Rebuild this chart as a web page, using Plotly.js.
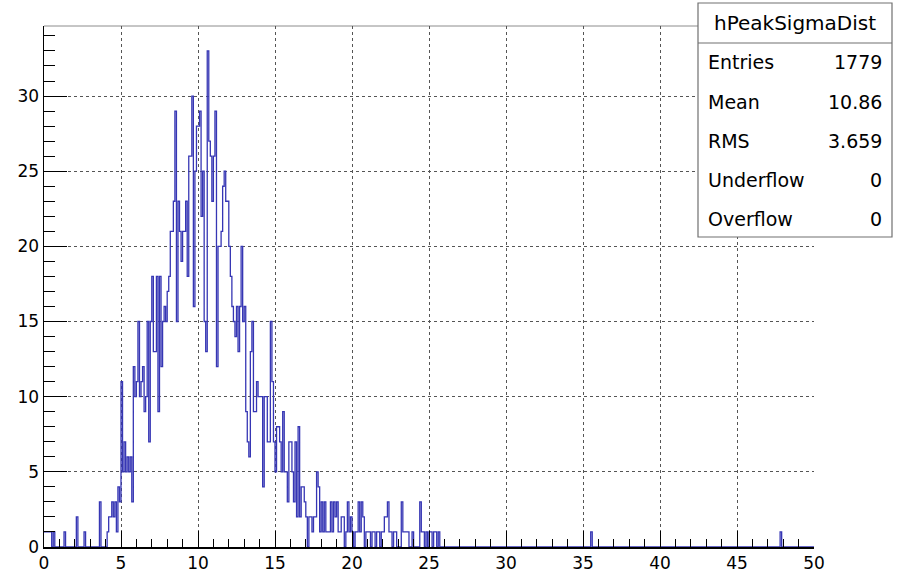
<!DOCTYPE html>
<html>
<head>
<meta charset="utf-8">
<script src="https://cdn.plot.ly/plotly-3.0.1.min.js"></script>
<style>
  html, body { margin: 0; padding: 0; background: #fff; }
  #chart { width: 901px; height: 572px; }
</style>
</head>
<body>
<div id="chart"></div>
<script>
// ---- Histogram definition (hPeakSigmaDist): 500 bins, 0..50 ----
const xMin = 0;
const xMax = 50;
const binWidth = 0.1;

// Bin counts for bins starting at 0.0, 0.1, ... 25.9 (one row per unit)
const countsLow = [
  1,1,1,1,1,0,1,0,0,0,       // 0.x
  0,0,0,1,0,0,0,0,0,0,       // 1.x
  0,2,0,0,0,0,1,0,0,0,       // 2.x
  0,0,0,0,0,0,3,0,0,0,       // 3.x
  0,1,2,2,3,2,3,1,4,3,       // 4.x
  11,5,7,5,6,5,6,3,12,10,    // 5.x
  11,15,10,11,12,9,10,15,7,15,   // 6.x
  18,13,13,18,9,18,12,15,16,15,  // 7.x
  17,18,21,21,23,29,15,23,21,19, // 8.x
  21,21,23,18,26,26,30,16,25,28, // 9.x
  28,29,22,25,15,13,33,27,26,23, // 10.x
  26,29,12,20,20,21,24,25,23,23, // 11.x
  20,18,16,15,14,16,13,16,20,15, // 12.x
  16,9,7,6,13,15,9,9,11,10,      // 13.x
  10,10,4,10,10,7,7,15,11,7,     // 14.x
  5,8,8,7,5,9,5,5,3,7,           // 15.x
  7,5,3,7,2,8,2,4,4,3,           // 16.x
  2,0,2,2,1,2,2,5,4,1,           // 17.x
  3,1,3,1,1,1,3,1,3,2,           // 18.x
  3,1,1,2,2,0,1,3,1,2,           // 19.x
  1,0,1,1,3,1,3,2,0,1,           // 20.x
  1,1,0,1,1,0,1,1,0,1,           // 21.x
  1,2,2,3,1,1,0,1,1,0,           // 22.x
  0,0,3,1,1,1,1,0,0,1,           // 23.x
  0,0,0,0,3,1,1,0,1,0,           // 24.x
  1,1,0,1,1,0,1,0,0,0            // 25.x
];

// Isolated far-tail entries (bin low edge, count)
const tailBins = [35.5, 47.8];
const tailCounts = [1, 1];

// Stats box
const statsName = 'hPeakSigmaDist';
const statsLabels = ['Entries', 'Mean', 'RMS', 'Underflow', 'Overflow'];
const statsValues = ['1779', '10.86', '3.659', '0', '0'];

// Axis ticks
const xTicks = [0, 5, 10, 15, 20, 25, 30, 35, 40, 45, 50];
const yTicks = [0, 5, 10, 15, 20, 25, 30];

// ---- Build full histogram ----
const nBins = Math.round((xMax - xMin) / binWidth);
const counts = new Array(nBins).fill(0);
countsLow.forEach((c, i) => { counts[i] = c; });
tailBins.forEach((b, k) => { counts[Math.round((b - xMin) / binWidth)] = tailCounts[k]; });

const xs = [], ys = [];
for (let i = 0; i < nBins; i++) {
  xs.push(+(xMin + i * binWidth).toFixed(2));
  ys.push(counts[i]);
}
xs.push(xMax); ys.push(counts[nBins - 1]);

// ---- Layout geometry (pixels) ----
const W = 901, H = 572;
const L = 44, R = 814, T = 26, B = 547;
const px = x => (x - L) / (R - L);
const py = y => (B - y) / (B - T);

const font = 'DejaVu Sans, Liberation Sans, Arial, sans-serif';

const trace = {
  type: 'scatter',
  mode: 'lines',
  x: xs,
  y: ys,
  line: { shape: 'hv', color: '#3636b4', width: 1.3 },
  hoverinfo: 'skip'
};

const annotations = [];
annotations.push({
  xref: 'paper', yref: 'paper', x: px(795), y: py(23),
  xanchor: 'center', yanchor: 'middle', showarrow: false,
  text: statsName, font: { family: font, size: 20, color: '#000' }
});
const rowY = [62, 102, 141, 180, 219];
statsLabels.forEach((lab, i) => {
  annotations.push({
    xref: 'paper', yref: 'paper', x: px(706), y: py(rowY[i]),
    xanchor: 'left', yanchor: 'middle', showarrow: false,
    text: lab, font: { family: font, size: 19, color: '#000' }
  });
  annotations.push({
    xref: 'paper', yref: 'paper', x: px(884), y: py(rowY[i]),
    xanchor: 'right', yanchor: 'middle', showarrow: false,
    text: statsValues[i], font: { family: font, size: 19, color: '#000' }
  });
});

const shapes = [
  // top frame line (gray)
  { type: 'line', xref: 'paper', yref: 'paper', x0: 0, x1: 1, y0: 1, y1: 1,
    line: { color: '#8c8c8c', width: 1 }, layer: 'below' },
  // stats box
  { type: 'rect', xref: 'paper', yref: 'paper',
    x0: px(698), x1: px(892), y0: py(237), y1: py(3),
    fillcolor: '#ffffff', line: { color: '#707070', width: 1.2 } },
  { type: 'line', xref: 'paper', yref: 'paper',
    x0: px(698), x1: px(892), y0: py(43), y1: py(43),
    line: { color: '#707070', width: 1.2 } }
];

const layout = {
  width: W, height: H,
  margin: { l: L, r: W - R, t: T, b: H - B, pad: 0 },
  paper_bgcolor: '#ffffff',
  plot_bgcolor: '#ffffff',
  showlegend: false,
  xaxis: {
    range: [xMin, xMax],
    tickmode: 'array', tickvals: xTicks, ticktext: xTicks.map(String),
    ticks: 'inside', ticklen: 16, tickwidth: 1, tickcolor: '#000',
    minor: { ticks: 'inside', dtick: 1, ticklen: 8, tickwidth: 1, tickcolor: '#000', showgrid: false },
    showline: true, linecolor: '#000', linewidth: 1.5,
    showgrid: true, gridcolor: '#555', griddash: 'dot', gridwidth: 1,
    zeroline: false,
    tickfont: { family: font, size: 17, color: '#000' },
    fixedrange: true
  },
  yaxis: {
    range: [0, 34.66],
    tickmode: 'array', tickvals: yTicks, ticktext: yTicks.map(String),
    ticks: 'inside', ticklen: 23, tickwidth: 1, tickcolor: '#000',
    minor: { ticks: 'inside', dtick: 1, ticklen: 11, tickwidth: 1, tickcolor: '#000', showgrid: false },
    showline: true, linecolor: '#000', linewidth: 1.5,
    showgrid: true, gridcolor: '#555', griddash: 'dot', gridwidth: 1,
    zeroline: false,
    tickfont: { family: font, size: 17, color: '#000' },
    fixedrange: true
  },
  shapes: shapes,
  annotations: annotations
};

Plotly.newPlot('chart', [trace], layout, { displayModeBar: false, staticPlot: true });
</script>
</body>
</html>
